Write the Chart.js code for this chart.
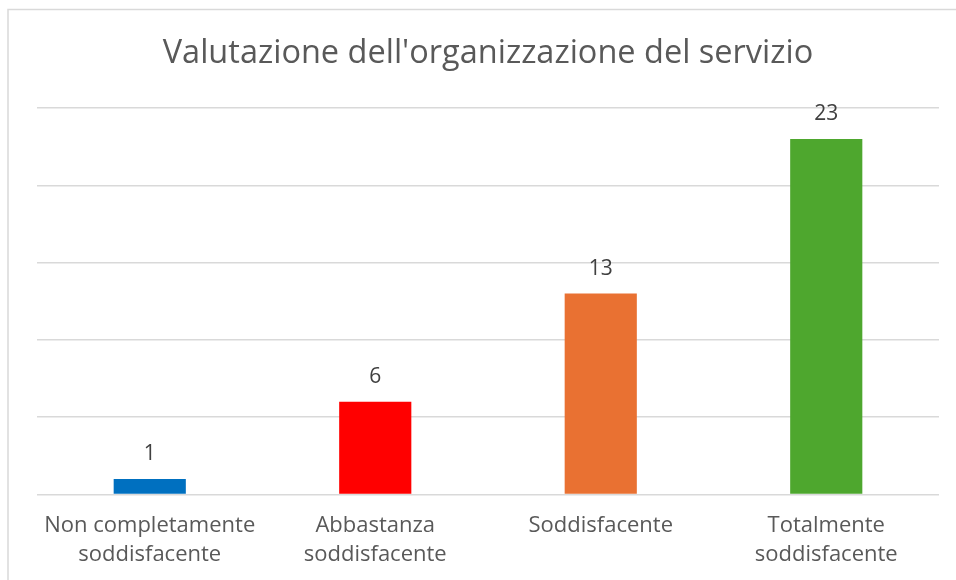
<!DOCTYPE html>
<html><head><meta charset="utf-8">
<script src="https://cdn.jsdelivr.net/npm/chart.js@4.4.1/dist/chart.umd.min.js"></script>
<style>html,body{margin:0;padding:0;background:#fff;}#wrap{width:956px;height:580px;position:relative;}</style>
</head><body><div id="wrap"><canvas id="c" width="956" height="580"></canvas></div>
<script>
const categories = [["Non completamente","soddisfacente"],["Abbastanza","soddisfacente"],["Soddisfacente"],["Totalmente","soddisfacente"]];
const values = [1, 6, 13, 23];
const barColors = ["#0070C0", "#FF0000", "#E97132", "#4EA72E"];
const titleText = "Valutazione dell'organizzazione del servizio";
const yMax = 25, yStep = 5;

const FONT = "'Open Sans', 'Liberation Sans', sans-serif";

const frame = {
  id: 'frame',
  beforeDraw(chart) {
    const ctx = chart.ctx;
    ctx.save();
    ctx.fillStyle = '#fff';
    ctx.fillRect(0, 0, chart.width, chart.height);
    ctx.strokeStyle = '#d9d9d9';
    ctx.lineWidth = 1.5;
    ctx.strokeRect(8, 9.5, 1200, 1200);
    ctx.restore();
  }
};
const labels = {
  id: 'labels',
  afterDatasetsDraw(chart) {
    const ctx = chart.ctx;
    const meta = chart.getDatasetMeta(0);
    ctx.save();
    ctx.font = "21px " + FONT;
    ctx.fillStyle = '#404040';
    ctx.textAlign = 'center';
    ctx.textBaseline = 'middle';
    meta.data.forEach((bar, i) => {
      ctx.fillText(String(values[i]), bar.x, bar.y - 25);
    });
    ctx.restore();
  }
};

new Chart(document.getElementById('c'), {
  type: 'bar',
  data: { labels: categories, datasets: [{ data: values, backgroundColor: barColors, barPercentage: 0.64, categoryPercentage: 0.5 }] },
  options: {
    responsive: false, animation: false,
    layout: { padding: { left: 37, right: 17, top: 0, bottom: 0 } },
    plugins: {
      legend: { display: false }, tooltip: { enabled: false },
      title: { display: true, text: titleText, color: '#595959', font: { family: FONT, size: 32.5, weight: 'normal', lineHeight: 1.2 }, padding: { top: 34.5, bottom: 34.5 } }
    },
    scales: {
      x: {
        grid: { display: false, drawTicks: false }, border: { display: false },
        ticks: { color: '#595959', font: { family: FONT, size: 22, lineHeight: 1.32 }, padding: 17, maxRotation: 0, autoSkip: false },
        afterFit(s) { s.height = 580 - 494.5; }
      },
      y: {
        min: 0, max: yMax,
        ticks: { display: false, stepSize: yStep },
        grid: { color: '#d9d9d9', lineWidth: 1.5, drawTicks: false },
        border: { display: false },
        afterFit(s) { s.width = 0; }
      }
    }
  },
  plugins: [frame, labels]
});
</script></body></html>
